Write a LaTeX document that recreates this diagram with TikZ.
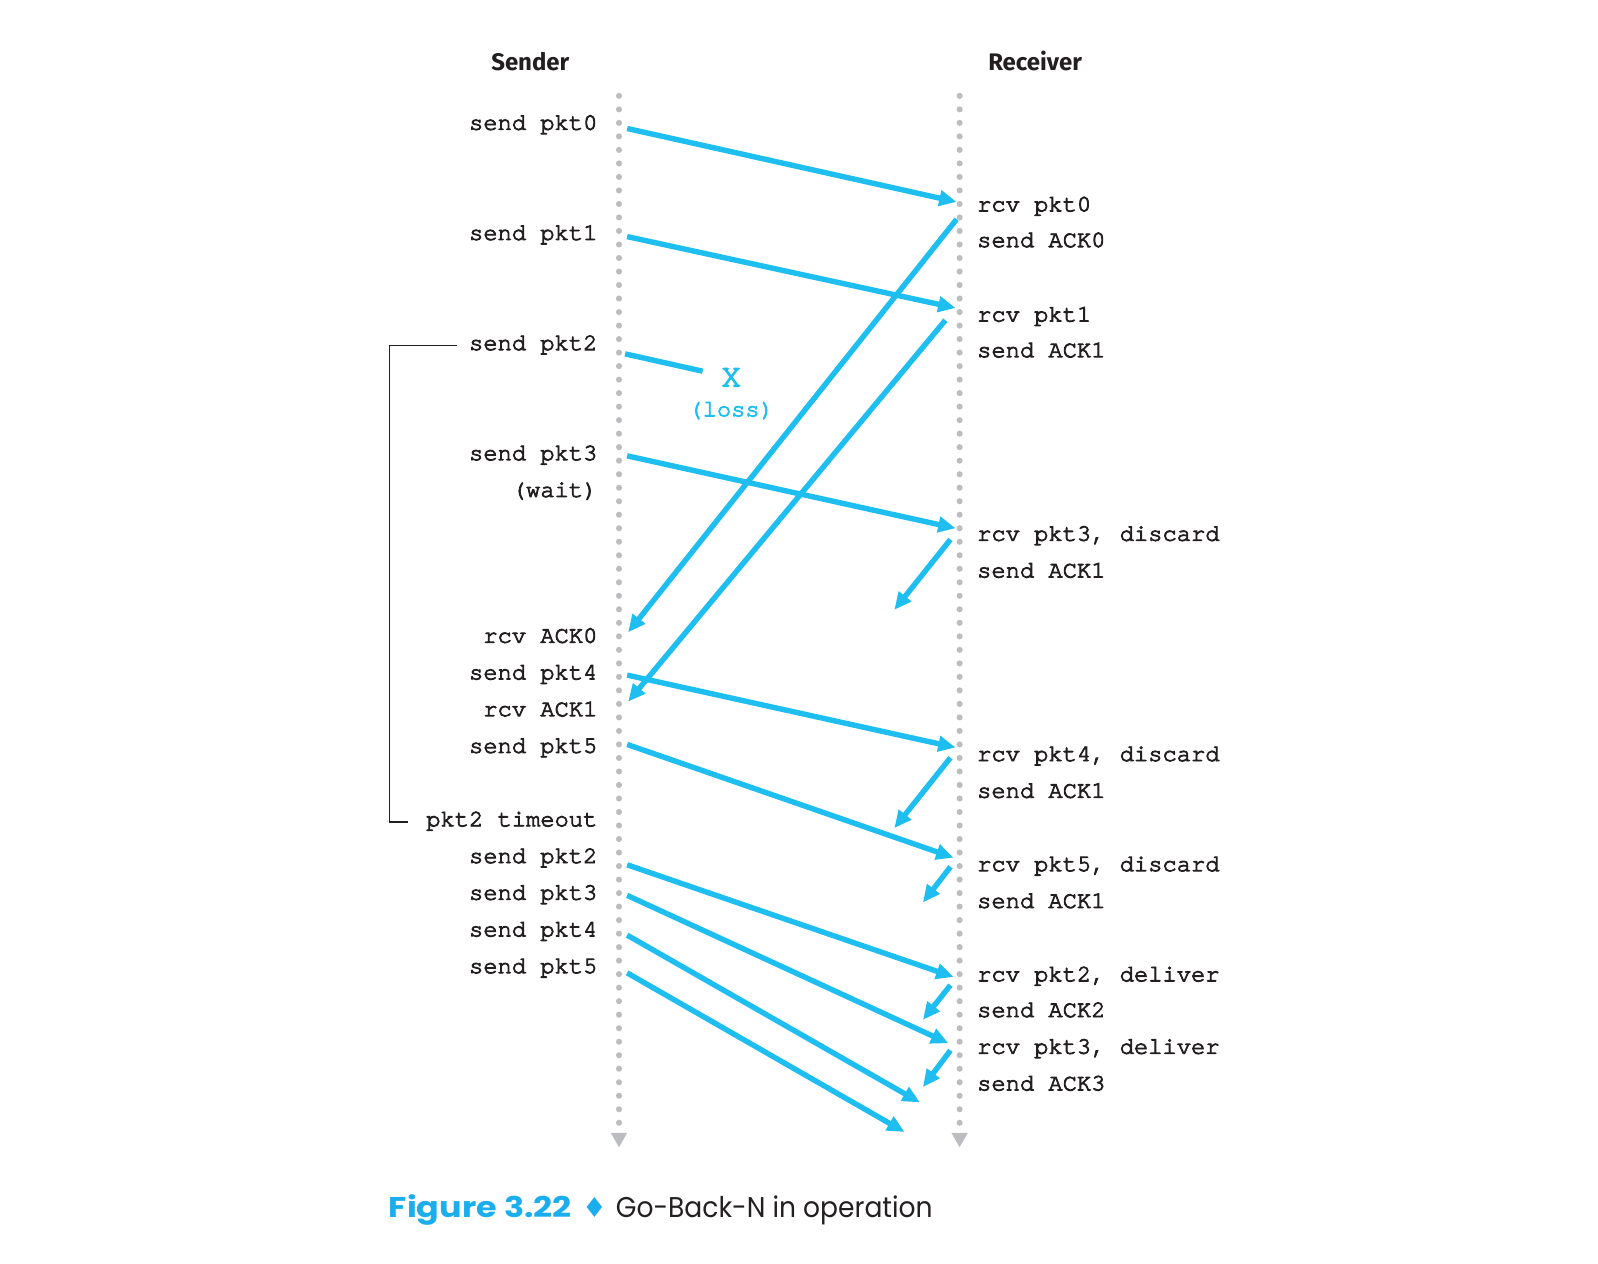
\documentclass[tikz,border=0pt]{standalone}
\usepackage{fontspec}
\usepackage{graphicx}
\setmainfont{Liberation Serif}
\newfontfamily\monofont[FakeBold=3.5]{texgyrecursor-regular.otf}
\newfontfamily\headfont{Fira Sans}
\newfontfamily\capfont{Poppins}
\newfontfamily\symfont{DejaVu Sans}
\usetikzlibrary{arrows.meta}
\definecolor{pblue}{RGB}{30,190,240}
\definecolor{capblue}{RGB}{26,174,239}
\definecolor{dotgray}{RGB}{188,189,192}
\definecolor{ink}{RGB}{35,31,32}
\begin{document}
\begin{tikzpicture}[x=1pt,y=-1pt,
  lbl/.style={font=\monofont\fontsize{23.3}{28}\selectfont, text=ink, inner sep=0pt},
  sl/.style={lbl, anchor=mid east, yshift=-3pt},
  rl/.style={lbl, anchor=mid west, yshift=-3pt},
  msg/.style={draw=pblue, line width=5.3pt, -{Triangle[length=17pt,width=15pt]}},
  lostline/.style={draw=pblue, line width=5.3pt},
  tl/.style={draw=dotgray, line width=6pt, line cap=round, dash pattern=on 0pt off 13.25pt},
  tlend/.style={fill=dotgray, draw=none},
  head/.style={font=\headfont\bfseries\fontsize{23.5}{28}\selectfont, text=ink, inner sep=0pt, anchor=base},
  bracket/.style={draw=ink, line width=1.2pt},
]
\useasboundingbox (0,0) rectangle (1567,1239);

% headers
\node[head] (hs) at (520,69) {Sender};
\node[head] (hr) at (1015,69) {Receiver};

% timelines
\coordinate (st) at (607,94);
\coordinate (sb) at (607,1101.5);
\coordinate (rt) at (941,94);
\coordinate (rb) at (941,1101.5);
\draw[tl] (st) -- (sb);
\draw[tl] (rt) -- (rb);
\fill[tlend] (599,1111) -- (615,1111) -- (607,1125) -- cycle;
\fill[tlend] (933,1111) -- (949,1111) -- (941,1125) -- cycle;

% sender labels
\node[sl] (sp0) at (586,122) {send pkt0};
\node[sl] (sp1) at (586,230) {send pkt1};
\node[sl] (sp2) at (586,338) {send pkt2};
\node[sl] (sp3) at (586,446) {send pkt3};
\node[sl] (wt)  at (586,482) {(wait)};
\node[sl] (ra0) at (586,625) {rcv ACK0};
\node[sl] (sp4) at (586,661) {send pkt4};
\node[sl] (ra1) at (586,697) {rcv ACK1};
\node[sl] (sp5) at (586,733) {send pkt5};
\node[sl] (tmo) at (586,805) {pkt2 timeout};
\node[sl] (sp2b) at (586,841) {send pkt2};
\node[sl] (sp3b) at (586,877) {send pkt3};
\node[sl] (sp4b) at (586,913) {send pkt4};
\node[sl] (sp5b) at (586,949) {send pkt5};

% receiver labels
\node[rl] (rp0) at (958,202) {rcv pkt0};
\node[rl] (sa0) at (958,237) {send ACK0};
\node[rl] (rp1) at (958,310) {rcv pkt1};
\node[rl] (sa1) at (958,345) {send ACK1};
\node[rl] (rp3) at (958,525) {rcv pkt3, discard};
\node[rl] (sa1b) at (958,561) {send ACK1};
\node[rl] (rp4) at (958,741) {rcv pkt4, discard};
\node[rl] (sa1c) at (958,777) {send ACK1};
\node[rl] (rp5) at (958,849) {rcv pkt5, discard};
\node[rl] (sa1d) at (958,885) {send ACK1};
\node[rl] (rp2b) at (958,957) {rcv pkt2, deliver};
\node[rl] (sa2) at (958,992) {send ACK2};
\node[rl] (rp3b) at (958,1028) {rcv pkt3, deliver};
\node[rl] (sa3) at (958,1064) {send ACK3};

% loss marker
\node[lbl, text=pblue, font=\monofont\fontsize{32}{36}\selectfont, anchor=center] (lx) at (717,370) {X};
\node[lbl, text=pblue, anchor=mid, yshift=-3pt] (loss) at (717,403) {(loss)};

% bracket for timeout
\coordinate (bk1) at (448,339);
\coordinate (bk2) at (382,339);
\coordinate (bk3) at (382,806);
\coordinate (bk4) at (400,806);
\draw[bracket] (bk1) -- (bk2) -- (bk3) -- (bk4);

% message endpoints
\coordinate (m0a) at (615,126);  \coordinate (m0b) at (938,198);
\coordinate (m1a) at (615,232);  \coordinate (m1b) at (937,302);
\coordinate (l2a) at (613,347);  \coordinate (l2b) at (689,364);
\coordinate (m3a) at (615,447);  \coordinate (m3b) at (937,518);
\coordinate (a0a) at (938,215);  \coordinate (a0b) at (616,620);
\coordinate (a1a) at (927,314);  \coordinate (a1b) at (616,688);
\coordinate (d3a) at (932,529);  \coordinate (d3b) at (877,598);
\coordinate (m4a) at (615,662);  \coordinate (m4b) at (937,733);
\coordinate (m5a) at (615,730);  \coordinate (m5b) at (935,841);
\coordinate (d4a) at (932,743);  \coordinate (d4b) at (877,812);
\coordinate (d5a) at (932,850);  \coordinate (d5b) at (905,885);
\coordinate (n2a) at (615,848);  \coordinate (n2b) at (935,958);
\coordinate (n3a) at (615,878);  \coordinate (n3b) at (930,1023);
\coordinate (e2a) at (932,966);  \coordinate (e2b) at (905,1000);
\coordinate (n4a) at (615,917);  \coordinate (n4b) at (902,1081);
\coordinate (e3a) at (932,1030); \coordinate (e3b) at (905,1066);
\coordinate (n5a) at (615,954);  \coordinate (n5b) at (887,1110);

\draw[msg] (m0a) -- (m0b);
\draw[msg] (m1a) -- (m1b);
\draw[lostline] (l2a) -- (l2b);
\draw[msg] (m3a) -- (m3b);
\draw[msg] (a0a) -- (a0b);
\draw[msg] (a1a) -- (a1b);
\draw[msg] (d3a) -- (d3b);
\draw[msg] (m4a) -- (m4b);
\draw[msg] (m5a) -- (m5b);
\draw[msg] (d4a) -- (d4b);
\draw[msg] (d5a) -- (d5b);
\draw[msg] (n2a) -- (n2b);
\draw[msg] (n3a) -- (n3b);
\draw[msg] (e2a) -- (e2b);
\draw[msg] (n4a) -- (n4b);
\draw[msg] (e3a) -- (e3b);
\draw[msg] (n5a) -- (n5b);

% caption
\node[inner sep=0pt, anchor=base west, font=\capfont\fontsize{28}{32}\selectfont] (cap) at (381,1194)
  {\scalebox{1.17}[1]{\color{capblue}\bfseries Figure 3.22}\hspace{10pt}{\color{capblue}\symfont\fontsize{27}{30}\selectfont ♦}\hspace{9pt}\scalebox{0.93}[1]{\color{ink}Go-Back-N in operation}};
\end{tikzpicture}
\end{document}
